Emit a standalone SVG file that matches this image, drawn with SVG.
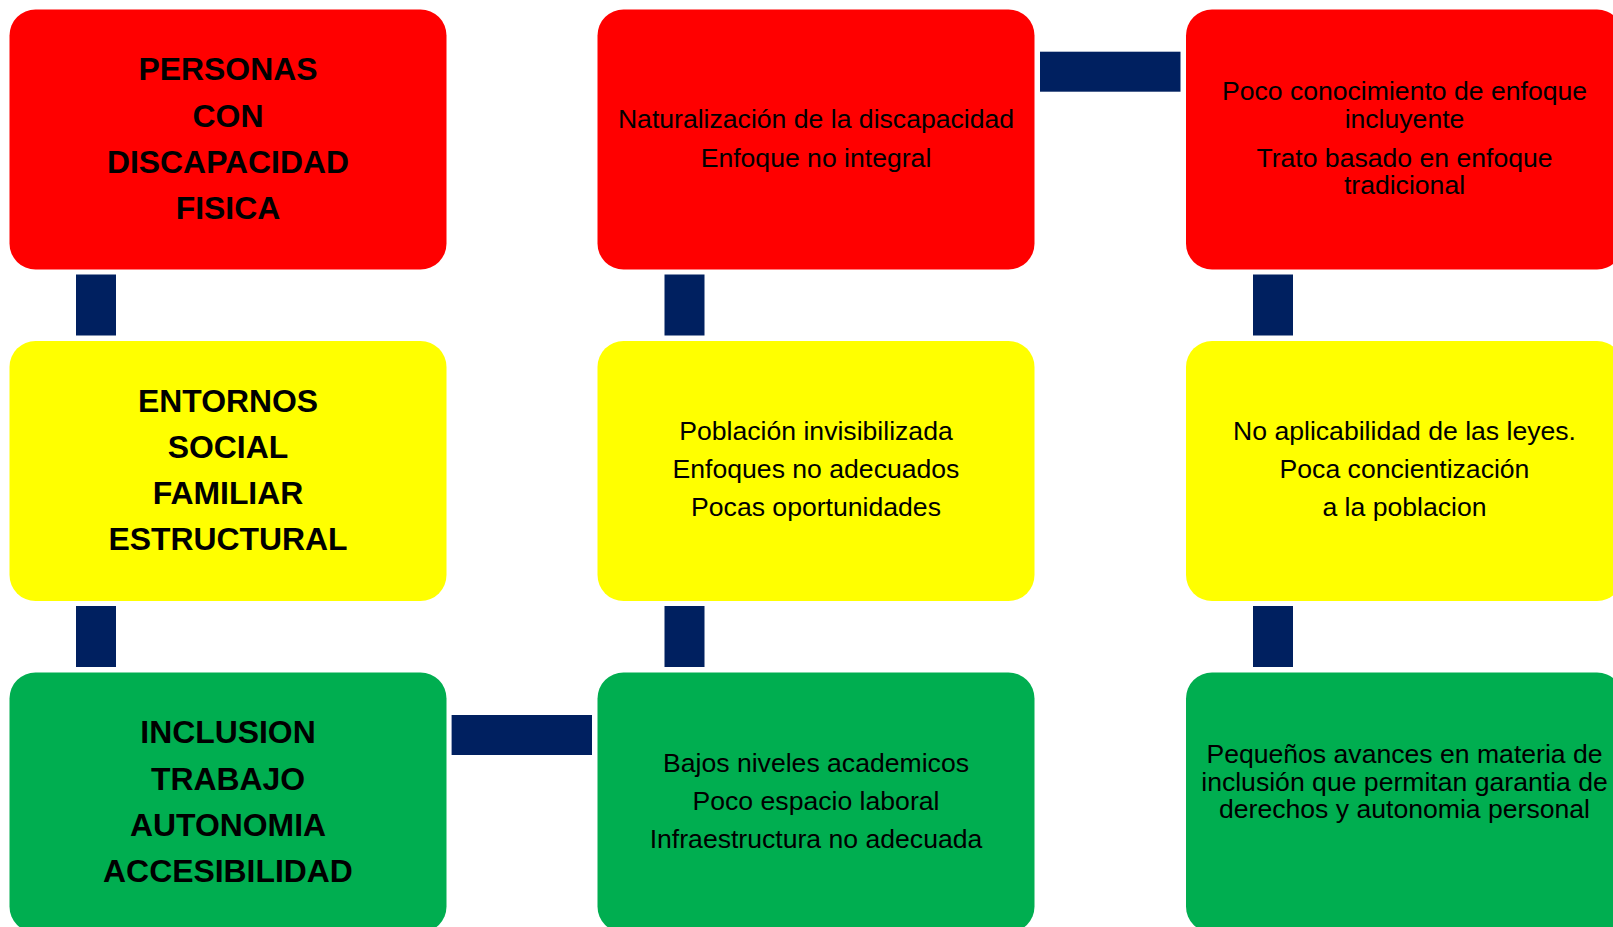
<svg xmlns="http://www.w3.org/2000/svg" width="1613" height="927" viewBox="0 0 1613 927">
<style>
.box{stroke:none}
.red{fill:#FF0000}
.yel{fill:#FFFF00}
.grn{fill:#00AE50}
.con{fill:#002060}
.b{font-family:"Liberation Sans",Arial,sans-serif;font-weight:bold;font-size:31.9px;fill:#000;text-anchor:middle}
.r{font-family:"Liberation Sans",Arial,sans-serif;font-size:26.6px;fill:#000;text-anchor:middle}
</style>
<rect width="1613" height="927" fill="#FFFFFF"/>
<g id="connectors">
<rect class="con" x="76" y="274.5" width="40" height="61"/>
<rect class="con" x="76" y="606" width="40" height="61"/>
<rect class="con" x="664.5" y="274.5" width="40" height="61"/>
<rect class="con" x="664.5" y="606" width="40" height="61"/>
<rect class="con" x="1253" y="274.5" width="40" height="61"/>
<rect class="con" x="1253" y="606" width="40" height="61"/>
<rect class="con" x="1040" y="51.7" width="140.5" height="40"/>
<rect class="con" x="451.6" y="715" width="140.4" height="40"/>
</g>
<g id="n1">
<rect class="box red" x="9.5" y="9.5" width="437" height="260" rx="26"/>
<text class="b" x="228" y="80">PERSONAS</text>
<text class="b" x="228" y="126.5">CON</text>
<text class="b" x="228" y="172.5">DISCAPACIDAD</text>
<text class="b" x="228" y="218.5">FISICA</text>
</g>
<g id="n2">
<rect class="box red" x="597.5" y="9.5" width="437" height="260" rx="26"/>
<text class="r" x="816" y="127.7">Naturalización de la discapacidad</text>
<text class="r" x="816" y="166.7">Enfoque no integral</text>
</g>
<g id="n3">
<rect class="box red" x="1186" y="9.5" width="437" height="260" rx="26"/>
<text class="r" x="1404.5" y="100">Poco conocimiento de enfoque</text>
<text class="r" x="1404.5" y="127.5">incluyente</text>
<text class="r" x="1404.5" y="166.5">Trato basado en enfoque</text>
<text class="r" x="1404.5" y="193.5">tradicional</text>
</g>
<g id="n4">
<rect class="box yel" x="9.5" y="341" width="437" height="260" rx="26"/>
<text class="b" x="228" y="411.5">ENTORNOS</text>
<text class="b" x="228" y="457.8">SOCIAL</text>
<text class="b" x="228" y="504">FAMILIAR</text>
<text class="b" x="228" y="549.5">ESTRUCTURAL</text>
</g>
<g id="n5">
<rect class="box yel" x="597.5" y="341" width="437" height="260" rx="26"/>
<text class="r" x="816" y="439.5">Población invisibilizada</text>
<text class="r" x="816" y="477.5">Enfoques no adecuados</text>
<text class="r" x="816" y="515.5">Pocas oportunidades</text>
</g>
<g id="n6">
<rect class="box yel" x="1186" y="341" width="437" height="260" rx="26"/>
<text class="r" x="1404.5" y="439.5">No aplicabilidad de las leyes.</text>
<text class="r" x="1404.5" y="477.5">Poca concientización</text>
<text class="r" x="1404.5" y="515.5">a la poblacion</text>
</g>
<g id="n7">
<rect class="box grn" x="9.5" y="672.5" width="437" height="260" rx="26"/>
<text class="b" x="228" y="743">INCLUSION</text>
<text class="b" x="228" y="790">TRABAJO</text>
<text class="b" x="228" y="836">AUTONOMIA</text>
<text class="b" x="228" y="881.7">ACCESIBILIDAD</text>
</g>
<g id="n8">
<rect class="box grn" x="597.5" y="672.5" width="437" height="260" rx="26"/>
<text class="r" x="816" y="771.7">Bajos niveles academicos</text>
<text class="r" x="816" y="809.8">Poco espacio laboral</text>
<text class="r" x="816" y="847.8">Infraestructura no adecuada</text>
</g>
<g id="n9">
<rect class="box grn" x="1186" y="672.5" width="437" height="260" rx="26"/>
<text class="r" x="1404.5" y="763.3">Pequeños avances en materia de</text>
<text class="r" x="1404.5" y="791">inclusión que permitan garantia de</text>
<text class="r" x="1404.5" y="818.3">derechos y autonomia personal</text>
</g>
</svg>
